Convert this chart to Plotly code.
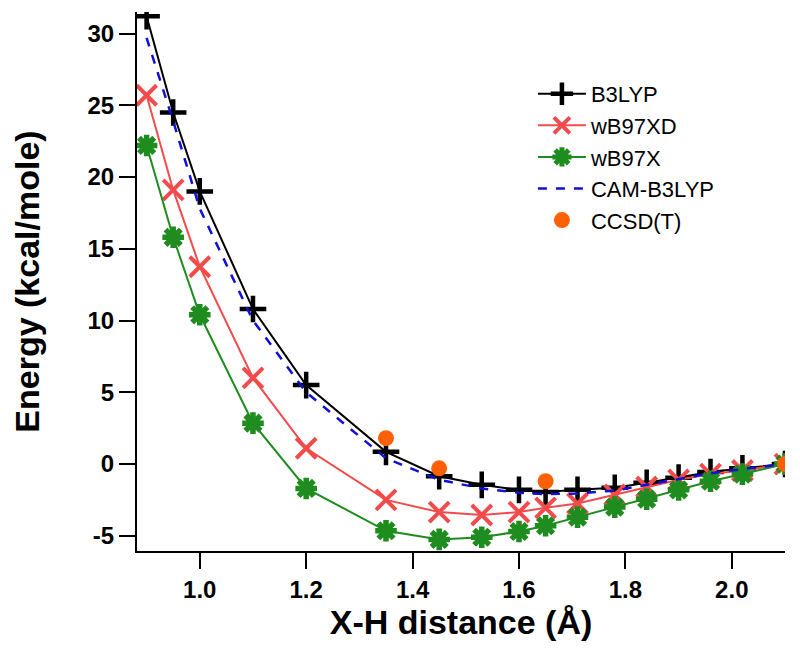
import plotly.graph_objects as go

x_dist = [0.9, 0.95, 1.0, 1.1, 1.2, 1.35, 1.45, 1.53, 1.6, 1.65, 1.71, 1.78, 1.84, 1.9, 1.96, 2.02, 2.1]
b3lyp = [31.2, 24.5, 19.0, 10.8, 5.5, 0.85, -0.85, -1.45, -1.8, -1.95, -1.8, -1.65, -1.3, -0.95, -0.55, -0.3, 0.0]
wb97xd = [25.7, 19.1, 13.75, 6.0, 1.1, -2.5, -3.35, -3.55, -3.35, -3.05, -2.75, -2.15, -1.6, -1.1, -0.7, -0.45, 0.0]
wb97x = [22.2, 15.8, 10.4, 2.85, -1.7, -4.65, -5.25, -5.1, -4.7, -4.3, -3.7, -3.0, -2.45, -1.8, -1.2, -0.7, 0.0]
cam_b3lyp = [29.7, 23.9, 17.8, 10.0, 5.0, 0.4, -1.1, -1.7, -2.0, -2.1, -2.05, -1.85, -1.45, -1.05, -0.65, -0.35, 0.0]
ccsd_x = [1.35, 1.45, 1.65, 2.1]
ccsd_y = [1.8, -0.3, -1.2, 0.0]

x_ticks = [1.0, 1.2, 1.4, 1.6, 1.8, 2.0]
y_ticks = [-5, 0, 5, 10, 15, 20, 25, 30]

FONT = "Liberation Sans, Arial, sans-serif"

fig = go.Figure()
fig.add_trace(go.Scatter(
    x=x_dist, y=b3lyp, name="B3LYP", mode="lines+markers",
    line=dict(color="black", width=2),
    marker=dict(symbol="cross-thin", size=19, color="black", line=dict(color="black", width=4.5)),
))
fig.add_trace(go.Scatter(
    x=x_dist, y=wb97xd, name="wB97XD", mode="lines+markers",
    line=dict(color="#f24b4b", width=2),
    marker=dict(symbol="x-thin", size=20, color="#f24b4b", line=dict(color="#f24b4b", width=4)),
))
fig.add_trace(go.Scatter(
    x=x_dist, y=wb97x, name="wB97X", mode="lines+markers",
    line=dict(color="#1e8c1e", width=2),
    marker=dict(symbol="asterisk", size=18, color="#1e8c1e", line=dict(color="#1e8c1e", width=5.5)),
))
fig.add_trace(go.Scatter(
    x=x_dist, y=cam_b3lyp, name="CAM-B3LYP", mode="lines",
    line=dict(color="#1010d8", width=2.5, dash="dash"),
))
fig.add_trace(go.Scatter(
    x=ccsd_x, y=ccsd_y, name="CCSD(T)", mode="markers",
    marker=dict(symbol="circle", size=16, color="#ff6005"),
))

fig.update_layout(
    width=800, height=657,
    margin=dict(l=129, r=23, t=4, b=114),
    paper_bgcolor="white", plot_bgcolor="white",
    font=dict(family=FONT, color="black"),
    legend=dict(
        x=0.611, y=0.887, xanchor="left", yanchor="top",
        font=dict(family=FONT, size=22, color="black"),
        bgcolor="rgba(0,0,0,0)", itemwidth=48, tracegroupgap=0,
    ),
    xaxis=dict(
        range=[0.882, 2.1], tickvals=x_ticks, ticktext=[f"{v:.1f}" for v in x_ticks],
        showline=True, linecolor="black", linewidth=2, showgrid=False, zeroline=False,
        ticks="outside", ticklen=16, tickwidth=2, tickcolor="black", automargin=False,
        tickfont=dict(family=FONT, size=24, color="black", weight="bold"),
        title=dict(text="X-H distance (Å)", font=dict(family=FONT, size=34, color="black", weight="bold"), standoff=0),
    ),
    yaxis=dict(
        range=[-6.06, 31.5], tickvals=y_ticks, ticktext=[str(v) for v in y_ticks],
        showline=True, linecolor="black", linewidth=2, showgrid=False, zeroline=False,
        ticks="outside", ticklen=16, tickwidth=2, tickcolor="black", automargin=False,
        tickfont=dict(family=FONT, size=24, color="black", weight="bold"),
        title=dict(text="Energy (kcal/mole)", font=dict(family=FONT, size=34, color="black", weight="bold"), standoff=40),
    ),
)

fig.write_html("out.html")
